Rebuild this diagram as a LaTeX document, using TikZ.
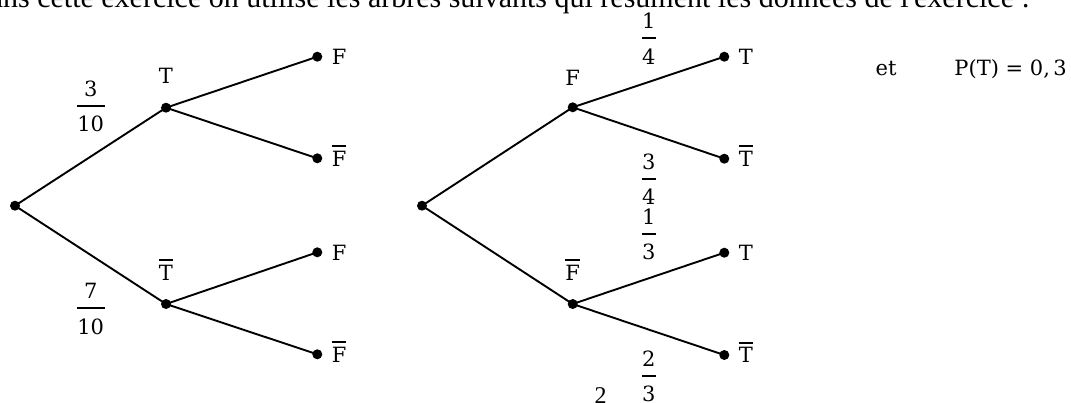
\documentclass[tikz,border=0pt]{standalone}
\usepackage{amsmath}
\usepackage{fontspec}
\setmainfont{DejaVu Serif}
\newfontfamily\introfont{Liberation Serif}
\newcommand\fracnode[6]{%
  \node[lab,anchor=base] (#1n) at (#2,#3-9.5) {#4};
  \node[lab,anchor=north] (#1d) at (#2,#3+10) {#5};
  \node[fill,inner sep=0pt,minimum width=#6pt,minimum height=2.3pt] (#1b) at (#2,#3) {};
}
\newcommand\ob[1]{\vbox{\hrule height 2.1pt\kern3.6pt\hbox{#1}}}
\begin{document}
\begin{tikzpicture}[x=1pt,y=-1pt,
  dot/.style={circle,fill,inner sep=0pt,minimum size=10pt},
  br/.style={line width=1.9pt},
  lab/.style={inner sep=0pt,font=\fontsize{21}{25}\selectfont},
  intro/.style={inner sep=0pt,font=\introfont\fontsize{30}{34}\selectfont}]
\useasboundingbox (0,0) rectangle (1071,402);
\clip (0,0) rectangle (1071,402);
% introductory text line (cut at the top)
\node[intro,anchor=base east] (intro) at (1030,7)
  {Dans cette exercice on utilise les arbres suivants qui résument les données de l'exercice :};
% ---------- left tree ----------
\node[dot] (r1) at (15,205.7) {};
\node[dot] (t1) at (166,107.7) {};
\node[dot] (tb1) at (166,304) {};
\node[dot] (t1f) at (317.3,56.7) {};
\node[dot] (t1fb) at (317.3,158.3) {};
\node[dot] (tb1f) at (317.3,252.3) {};
\node[dot] (tb1fb) at (317.3,354.3) {};
\draw[br] (r1.center) -- (t1.center);
\draw[br] (r1.center) -- (tb1.center);
\draw[br] (t1.center) -- (t1f.center);
\draw[br] (t1.center) -- (t1fb.center);
\draw[br] (tb1.center) -- (tb1f.center);
\draw[br] (tb1.center) -- (tb1fb.center);
\node[lab,anchor=base] (lt1) at (166,83.3) {T};
\node[lab,anchor=base] (ltb1) at (166,280) {\ob{T}};
\node[lab,anchor=base west] (l1) at (331.7,64.4) {F};
\node[lab,anchor=base west] (l2) at (331.7,166) {\ob{F}};
\node[lab,anchor=base west] (l3) at (331.7,260) {F};
\node[lab,anchor=base west] (l4) at (331.7,362) {\ob{F}};
\fracnode{p1}{90.7}{105.7}{3}{10}{28}
\fracnode{p2}{90.7}{308.3}{7}{10}{28}
% ---------- right tree ----------
\node[dot] (r2) at (422,205.7) {};
\node[dot] (f2) at (572.7,107.3) {};
\node[dot] (fb2) at (572.7,304) {};
\node[dot] (f2t) at (724.3,56.7) {};
\node[dot] (f2tb) at (724.3,158.7) {};
\node[dot] (fb2t) at (724.3,252.7) {};
\node[dot] (fb2tb) at (724.3,355) {};
\draw[br] (r2.center) -- (f2.center);
\draw[br] (r2.center) -- (fb2.center);
\draw[br] (f2.center) -- (f2t.center);
\draw[br] (f2.center) -- (f2tb.center);
\draw[br] (fb2.center) -- (fb2t.center);
\draw[br] (fb2.center) -- (fb2tb.center);
\node[lab,anchor=base] (lf2) at (572.7,85) {F};
\node[lab,anchor=base] (lfb2) at (572.7,280) {\ob{F}};
\node[lab,anchor=base west] (m1) at (738.7,64.4) {T};
\node[lab,anchor=base west] (m2) at (738.7,166.4) {\ob{T}};
\node[lab,anchor=base west] (m3) at (738.7,260.4) {T};
\node[lab,anchor=base west] (m4) at (738.7,362.7) {\ob{T}};
\fracnode{q1}{648.7}{38.3}{1}{4}{14}
\fracnode{q2}{648.7}{179}{3}{4}{14}
\fracnode{q3}{648.7}{234}{1}{3}{14}
\fracnode{q4}{648.7}{376}{2}{3}{14}
% ---------- right text ----------
\node[lab,anchor=base] (et) at (886,75) {et};
\node[lab,anchor=base east] (pt) at (1067,75) {P(T) = 0,\,3};
% fragment of the next text line
\node[inner sep=0pt,font=\introfont\fontsize{24}{28}\selectfont,anchor=north] (two) at (600.5,387) {2};
\end{tikzpicture}
\end{document}
